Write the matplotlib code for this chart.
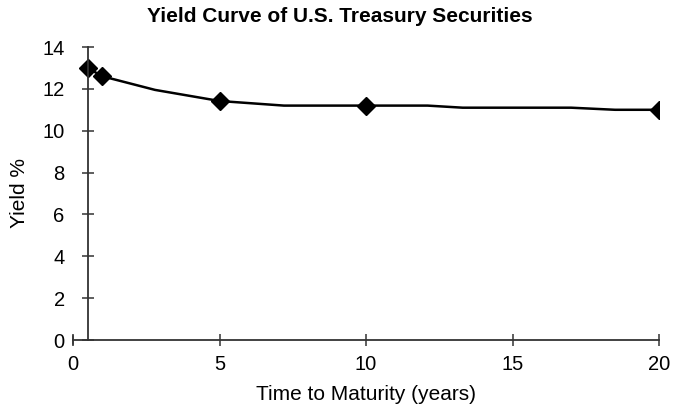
import numpy as np
import matplotlib.pyplot as plt

plt.rcParams.update({'font.family': 'sans-serif',
                     'font.sans-serif': ['Liberation Sans', 'DejaVu Sans'],
                     'font.size': 14})

# yield curve (line) and marked maturities
maturity = [0.5, 1, 1.5, 2.8, 5, 7.2, 10, 12.1, 13.3, 17.0, 18.5, 20]
yield_pct = [13.0, 12.6, 12.42, 11.95, 11.42, 11.2, 11.2, 11.2, 11.1, 11.1, 11.0, 11.0]
mark_x = [0.5, 1, 5, 10, 20]
mark_y = [13.0, 12.6, 11.42, 11.2, 11.0]

fig = plt.figure(figsize=(6.73, 4.11), dpi=100)
ax = fig.add_axes([73/673, 1 - 340/411, (659-73)/673, (340-47)/411])

ax.plot(maturity, yield_pct, color='black', lw=1.8)
ax.plot(mark_x, mark_y, 'D', color='black', ms=9)

ax.set_xlim(0, 20)
ax.set_ylim(0, 14)
ax.set_xticks([0, 5, 10, 15, 20])
ax.set_yticks(np.arange(0, 15, 2))

ax.spines['top'].set_visible(False)
ax.spines['right'].set_visible(False)
ax.spines['left'].set_position(('data', 0.5))
for s in ['left', 'bottom']:
    ax.spines[s].set_linewidth(1.3)
    ax.spines[s].set_color('#333333')

ax.tick_params(direction='inout', length=9, width=1.1, color='#333333',
               labelsize=14.5)
ax.tick_params(axis='x', pad=6)
ax.tick_params(axis='y', pad=12)

# left end tick at x=0 on the x axis
ax.plot([0, 0], [-0.2, 0.2], color='#333333', lw=1.1, clip_on=False)

ax.set_xlabel('Time to Maturity (years)', fontsize=15, labelpad=8)
ax.set_ylabel('Yield %', fontsize=15)
ax.yaxis.set_label_coords(-0.075, 0.5)
fig.text(340/673, 1 - 16/411, 'Yield Curve of U.S. Treasury Securities',
         ha='center', va='center', fontsize=15, fontweight='bold')

fig.savefig('out.png', dpi=100)
